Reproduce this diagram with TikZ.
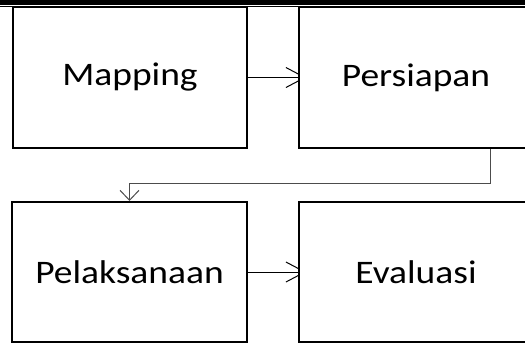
\documentclass[tikz,border=0pt]{standalone}
\usepackage{fontspec}
\setmainfont[FakeStretch=1.14]{Carlito}
\usetikzlibrary{arrows.meta,backgrounds}

\begin{document}
\begin{tikzpicture}[x=1bp,y=-1bp,
    box/.style={draw,line width=2bp,fill=white,minimum width=234bp,inner sep=0pt,font=\fontsize{33}{40}\selectfont},
    link/.style={line width=1bp,shorten >=-8bp,-{Straight Barb[length=19bp,width=20bp,line width=1bp]}},
    elbow/.style={line width=0.8bp,draw=black!70,-{Straight Barb[length=10bp,width=19bp,line width=1bp]}}]
    \useasboundingbox (0,0) rectangle (525,343);
    % band at the top
    \fill (0,0) rectangle (525,5);
    \draw [line width=1.5bp] (0,6.5) -- (525,6.5);
    % the four steps
    \node [box,minimum height=141bp] (mapping) at (130,77.5) {Mapping};
    \node [box,minimum height=141bp] (persiapan) at (416,77.5) {Persiapan};
    \node [box,minimum height=140bp] (pelaksanaan) at (129.5,272) {Pelaksanaan};
    \node [box,minimum height=140bp] (evaluasi) at (416,272) {Evaluasi};
    % connectors
    \begin{scope}[on background layer]
        \draw [link] (mapping.east) -- (persiapan.west);
        \draw [link] (pelaksanaan.east) -- (evaluasi.west);
    \end{scope}
    \draw [elbow] ([xshift=74bp]persiapan.south) -- ++(0,34) -| (pelaksanaan.north);
\end{tikzpicture}
\end{document}
